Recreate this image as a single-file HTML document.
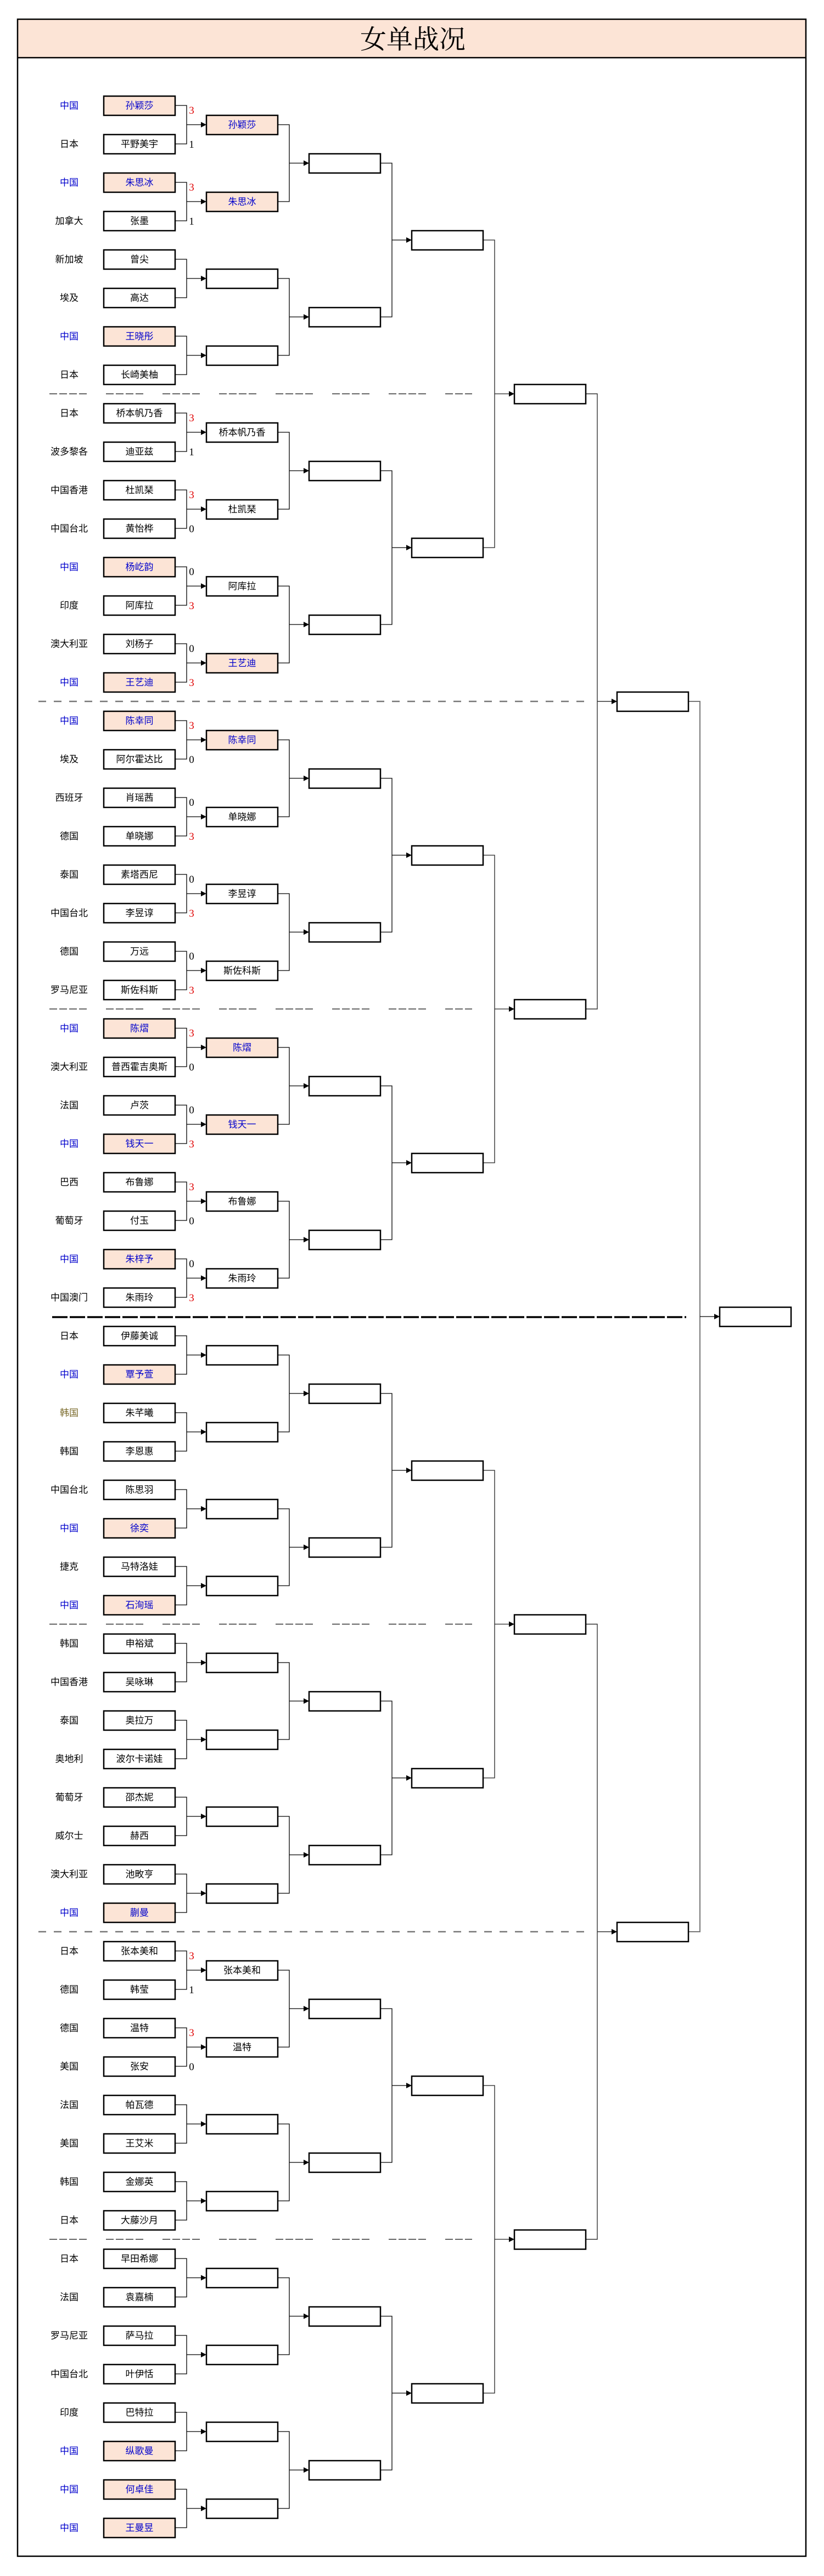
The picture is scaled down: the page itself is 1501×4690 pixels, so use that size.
<!DOCTYPE html>
<html><head><meta charset="utf-8"><style>
html,body{margin:0;padding:0;background:#fff}
svg{display:block}
text{font-family:"Liberation Sans","Noto Sans CJK SC",sans-serif;font-size:17px;text-anchor:middle;fill:#000}
.bl{fill:#0000cc}
.ol{fill:#7a6a2a}
.sc{font-family:"Liberation Serif",serif;font-size:19px}
.r{fill:#e00000}
.t{font-family:"Liberation Serif","Noto Serif CJK SC",serif;font-size:48px}
</style></head><body>
<svg width="1501" height="4690" viewBox="0 0 1501 4690" xmlns="http://www.w3.org/2000/svg" xmlns:xlink="http://www.w3.org/1999/xlink">
<defs>
<rect id="bx" x="0" y="0" width="130" height="35" fill="#fff" stroke="#000" stroke-width="2.5"/>
<rect id="hb" x="0" y="0" width="130" height="35" fill="#fce4d6" stroke="#000" stroke-width="2.5"/>
<g id="c1"><path d="M319 0H340V70H319M340 35H366" fill="none" stroke="#000" stroke-width="1.3"/><path d="M366 30L376 35L366 40Z"/></g>
<g id="c2"><path d="M506 0H527V140H506M527 70H553" fill="none" stroke="#000" stroke-width="1.3"/><path d="M553 65L563 70L553 75Z"/></g>
<g id="c3"><path d="M693 0H714V280H693M714 140H740" fill="none" stroke="#000" stroke-width="1.3"/><path d="M740 135L750 140L740 145Z"/></g>
<g id="c4"><path d="M880 0H901V560H880M901 280H927" fill="none" stroke="#222" stroke-width="1.3"/><path d="M927 275L937 280L927 285Z"/></g>
<g id="c5"><path d="M1067 0H1088V1120H1067M1088 560H1114" fill="none" stroke="#333" stroke-width="1.4"/><path d="M1114 555L1124 560L1114 565Z"/></g>
<g id="c6"><path d="M1254 0H1275V2240H1254" fill="none" stroke="#777" stroke-width="2"/><path d="M1275 1120H1301" stroke="#000" stroke-width="1.3"/><path d="M1301 1115L1311 1120L1301 1125Z"/></g>
</defs>

<!-- frame -->
<rect x="32" y="35" width="1436" height="70" fill="#fce4d6"/>
<rect x="32" y="35" width="1436" height="4619" fill="none" stroke="#000" stroke-width="2.5"/>
<line x1="32" y1="105" x2="1468" y2="105" stroke="#000" stroke-width="2.5"/>
<text class="t" x="752" y="88">女单战况</text>

<!-- separators -->
<g stroke="#666" stroke-width="2" stroke-dasharray="14 4 14 4 14 4 14 35">
<line x1="90" y1="717" x2="860" y2="717"/>
<line x1="90" y1="1837" x2="860" y2="1837"/>
<line x1="90" y1="2957" x2="860" y2="2957"/>
<line x1="90" y1="4077" x2="860" y2="4077"/>
</g>
<g stroke="#777" stroke-width="2.5" stroke-dasharray="14 14">
<line x1="70" y1="1277" x2="1075" y2="1277"/>
<line x1="70" y1="3517" x2="1075" y2="3517"/>
</g>
<line x1="95" y1="2398" x2="1250" y2="2398" stroke="#000" stroke-width="3.5" stroke-dasharray="28 4"/>

<!-- connectors -->
<use href="#c1" y="192"/><use href="#c1" y="332"/><use href="#c1" y="472"/><use href="#c1" y="612"/>
<use href="#c1" y="752"/><use href="#c1" y="892"/><use href="#c1" y="1032"/><use href="#c1" y="1172"/>
<use href="#c1" y="1312"/><use href="#c1" y="1452"/><use href="#c1" y="1592"/><use href="#c1" y="1732"/>
<use href="#c1" y="1872"/><use href="#c1" y="2012"/><use href="#c1" y="2152"/><use href="#c1" y="2292"/>
<use href="#c1" y="2432"/><use href="#c1" y="2572"/><use href="#c1" y="2712"/><use href="#c1" y="2852"/>
<use href="#c1" y="2992"/><use href="#c1" y="3132"/><use href="#c1" y="3272"/><use href="#c1" y="3412"/>
<use href="#c1" y="3552"/><use href="#c1" y="3692"/><use href="#c1" y="3832"/><use href="#c1" y="3972"/>
<use href="#c1" y="4112"/><use href="#c1" y="4252"/><use href="#c1" y="4392"/><use href="#c1" y="4532"/>
<use href="#c2" y="227"/><use href="#c2" y="507"/><use href="#c2" y="787"/><use href="#c2" y="1067"/>
<use href="#c2" y="1347"/><use href="#c2" y="1627"/><use href="#c2" y="1907"/><use href="#c2" y="2187"/>
<use href="#c2" y="2467"/><use href="#c2" y="2747"/><use href="#c2" y="3027"/><use href="#c2" y="3307"/>
<use href="#c2" y="3587"/><use href="#c2" y="3867"/><use href="#c2" y="4147"/><use href="#c2" y="4427"/>
<use href="#c3" y="297"/><use href="#c3" y="857"/><use href="#c3" y="1417"/><use href="#c3" y="1977"/>
<use href="#c3" y="2537"/><use href="#c3" y="3097"/><use href="#c3" y="3657"/><use href="#c3" y="4217"/>
<use href="#c4" y="437"/><use href="#c4" y="1557"/><use href="#c4" y="2677"/><use href="#c4" y="3797"/>
<use href="#c5" y="717"/><use href="#c5" y="2957"/>
<use href="#c6" y="1277"/>

<!-- R1 boxes -->
<use href="#hb" x="189" y="175"/><use href="#bx" x="189" y="245"/><use href="#hb" x="189" y="315"/><use href="#bx" x="189" y="385"/>
<use href="#bx" x="189" y="455"/><use href="#bx" x="189" y="525"/><use href="#hb" x="189" y="595"/><use href="#bx" x="189" y="665"/>
<use href="#bx" x="189" y="735"/><use href="#bx" x="189" y="805"/><use href="#bx" x="189" y="875"/><use href="#bx" x="189" y="945"/>
<use href="#hb" x="189" y="1015"/><use href="#bx" x="189" y="1085"/><use href="#bx" x="189" y="1155"/><use href="#hb" x="189" y="1225"/>
<use href="#hb" x="189" y="1295"/><use href="#bx" x="189" y="1365"/><use href="#bx" x="189" y="1435"/><use href="#bx" x="189" y="1505"/>
<use href="#bx" x="189" y="1575"/><use href="#bx" x="189" y="1645"/><use href="#bx" x="189" y="1715"/><use href="#bx" x="189" y="1785"/>
<use href="#hb" x="189" y="1855"/><use href="#bx" x="189" y="1925"/><use href="#bx" x="189" y="1995"/><use href="#hb" x="189" y="2065"/>
<use href="#bx" x="189" y="2135"/><use href="#bx" x="189" y="2205"/><use href="#hb" x="189" y="2275"/><use href="#bx" x="189" y="2345"/>
<use href="#bx" x="189" y="2415"/><use href="#hb" x="189" y="2485"/><use href="#bx" x="189" y="2555"/><use href="#bx" x="189" y="2625"/>
<use href="#bx" x="189" y="2695"/><use href="#hb" x="189" y="2765"/><use href="#bx" x="189" y="2835"/><use href="#hb" x="189" y="2905"/>
<use href="#bx" x="189" y="2975"/><use href="#bx" x="189" y="3045"/><use href="#bx" x="189" y="3115"/><use href="#bx" x="189" y="3185"/>
<use href="#bx" x="189" y="3255"/><use href="#bx" x="189" y="3325"/><use href="#bx" x="189" y="3395"/><use href="#hb" x="189" y="3465"/>
<use href="#bx" x="189" y="3535"/><use href="#bx" x="189" y="3605"/><use href="#bx" x="189" y="3675"/><use href="#bx" x="189" y="3745"/>
<use href="#bx" x="189" y="3815"/><use href="#bx" x="189" y="3885"/><use href="#bx" x="189" y="3955"/><use href="#bx" x="189" y="4025"/>
<use href="#bx" x="189" y="4095"/><use href="#bx" x="189" y="4165"/><use href="#bx" x="189" y="4235"/><use href="#bx" x="189" y="4305"/>
<use href="#bx" x="189" y="4375"/><use href="#hb" x="189" y="4445"/><use href="#hb" x="189" y="4515"/><use href="#hb" x="189" y="4585"/>

<!-- R2 boxes -->
<use href="#hb" x="376" y="210"/><use href="#hb" x="376" y="350"/><use href="#bx" x="376" y="490"/><use href="#bx" x="376" y="630"/>
<use href="#bx" x="376" y="770"/><use href="#bx" x="376" y="910"/><use href="#bx" x="376" y="1050"/><use href="#hb" x="376" y="1190"/>
<use href="#hb" x="376" y="1330"/><use href="#bx" x="376" y="1470"/><use href="#bx" x="376" y="1610"/><use href="#bx" x="376" y="1750"/>
<use href="#hb" x="376" y="1890"/><use href="#hb" x="376" y="2030"/><use href="#bx" x="376" y="2170"/><use href="#bx" x="376" y="2310"/>
<use href="#bx" x="376" y="2450"/><use href="#bx" x="376" y="2590"/><use href="#bx" x="376" y="2730"/><use href="#bx" x="376" y="2870"/>
<use href="#bx" x="376" y="3010"/><use href="#bx" x="376" y="3150"/><use href="#bx" x="376" y="3290"/><use href="#bx" x="376" y="3430"/>
<use href="#bx" x="376" y="3570"/><use href="#bx" x="376" y="3710"/><use href="#bx" x="376" y="3850"/><use href="#bx" x="376" y="3990"/>
<use href="#bx" x="376" y="4130"/><use href="#bx" x="376" y="4270"/><use href="#bx" x="376" y="4410"/><use href="#bx" x="376" y="4550"/>
<!-- R3 -->
<use href="#bx" x="563" y="280"/><use href="#bx" x="563" y="560"/><use href="#bx" x="563" y="840"/><use href="#bx" x="563" y="1120"/>
<use href="#bx" x="563" y="1400"/><use href="#bx" x="563" y="1680"/><use href="#bx" x="563" y="1960"/><use href="#bx" x="563" y="2240"/>
<use href="#bx" x="563" y="2520"/><use href="#bx" x="563" y="2800"/><use href="#bx" x="563" y="3080"/><use href="#bx" x="563" y="3360"/>
<use href="#bx" x="563" y="3640"/><use href="#bx" x="563" y="3920"/><use href="#bx" x="563" y="4200"/><use href="#bx" x="563" y="4480"/>
<!-- R4 -->
<use href="#bx" x="750" y="420"/><use href="#bx" x="750" y="980"/><use href="#bx" x="750" y="1540"/><use href="#bx" x="750" y="2100"/>
<use href="#bx" x="750" y="2660"/><use href="#bx" x="750" y="3220"/><use href="#bx" x="750" y="3780"/><use href="#bx" x="750" y="4340"/>
<!-- R5 -->
<use href="#bx" x="937" y="700"/><use href="#bx" x="937" y="1820"/><use href="#bx" x="937" y="2940"/><use href="#bx" x="937" y="4060"/>
<!-- R6 -->
<use href="#bx" x="1124" y="1260"/><use href="#bx" x="1124" y="3500"/>
<!-- Final -->
<use href="#bx" x="1311" y="2380"/>

<!-- countries -->
<g>
<text class="bl" x="126" y="198">中国</text>
<text x="126" y="268">日本</text>
<text class="bl" x="126" y="338">中国</text>
<text x="126" y="408">加拿大</text>
<text x="126" y="478">新加坡</text>
<text x="126" y="548">埃及</text>
<text class="bl" x="126" y="618">中国</text>
<text x="126" y="688">日本</text>
<text x="126" y="758">日本</text>
<text x="126" y="828">波多黎各</text>
<text x="126" y="898">中国香港</text>
<text x="126" y="968">中国台北</text>
<text class="bl" x="126" y="1038">中国</text>
<text x="126" y="1108">印度</text>
<text x="126" y="1178">澳大利亚</text>
<text class="bl" x="126" y="1248">中国</text>
<text class="bl" x="126" y="1318">中国</text>
<text x="126" y="1388">埃及</text>
<text x="126" y="1458">西班牙</text>
<text x="126" y="1528">德国</text>
<text x="126" y="1598">泰国</text>
<text x="126" y="1668">中国台北</text>
<text x="126" y="1738">德国</text>
<text x="126" y="1808">罗马尼亚</text>
<text class="bl" x="126" y="1878">中国</text>
<text x="126" y="1948">澳大利亚</text>
<text x="126" y="2018">法国</text>
<text class="bl" x="126" y="2088">中国</text>
<text x="126" y="2158">巴西</text>
<text x="126" y="2228">葡萄牙</text>
<text class="bl" x="126" y="2298">中国</text>
<text x="126" y="2368">中国澳门</text>
<text x="126" y="2438">日本</text>
<text class="bl" x="126" y="2508">中国</text>
<text class="ol" x="126" y="2578">韩国</text>
<text x="126" y="2648">韩国</text>
<text x="126" y="2718">中国台北</text>
<text class="bl" x="126" y="2788">中国</text>
<text x="126" y="2858">捷克</text>
<text class="bl" x="126" y="2928">中国</text>
<text x="126" y="2998">韩国</text>
<text x="126" y="3068">中国香港</text>
<text x="126" y="3138">泰国</text>
<text x="126" y="3208">奥地利</text>
<text x="126" y="3278">葡萄牙</text>
<text x="126" y="3348">威尔士</text>
<text x="126" y="3418">澳大利亚</text>
<text class="bl" x="126" y="3488">中国</text>
<text x="126" y="3558">日本</text>
<text x="126" y="3628">德国</text>
<text x="126" y="3698">德国</text>
<text x="126" y="3768">美国</text>
<text x="126" y="3838">法国</text>
<text x="126" y="3908">美国</text>
<text x="126" y="3978">韩国</text>
<text x="126" y="4048">日本</text>
<text x="126" y="4118">日本</text>
<text x="126" y="4188">法国</text>
<text x="126" y="4258">罗马尼亚</text>
<text x="126" y="4328">中国台北</text>
<text x="126" y="4398">印度</text>
<text class="bl" x="126" y="4468">中国</text>
<text class="bl" x="126" y="4538">中国</text>
<text class="bl" x="126" y="4608">中国</text>
</g>

<!-- R1 names -->
<g>
<text class="bl" x="254" y="198">孙颖莎</text>
<text x="254" y="268">平野美宇</text>
<text class="bl" x="254" y="338">朱思冰</text>
<text x="254" y="408">张墨</text>
<text x="254" y="478">曾尖</text>
<text x="254" y="548">高达</text>
<text class="bl" x="254" y="618">王晓彤</text>
<text x="254" y="688">长崎美柚</text>
<text x="254" y="758">桥本帆乃香</text>
<text x="254" y="828">迪亚兹</text>
<text x="254" y="898">杜凯琹</text>
<text x="254" y="968">黄怡桦</text>
<text class="bl" x="254" y="1038">杨屹韵</text>
<text x="254" y="1108">阿库拉</text>
<text x="254" y="1178">刘杨子</text>
<text class="bl" x="254" y="1248">王艺迪</text>
<text class="bl" x="254" y="1318">陈幸同</text>
<text x="254" y="1388">阿尔霍达比</text>
<text x="254" y="1458">肖瑶茜</text>
<text x="254" y="1528">单晓娜</text>
<text x="254" y="1598">素塔西尼</text>
<text x="254" y="1668">李昱谆</text>
<text x="254" y="1738">万远</text>
<text x="254" y="1808">斯佐科斯</text>
<text class="bl" x="254" y="1878">陈熠</text>
<text x="254" y="1948">普西霍吉奥斯</text>
<text x="254" y="2018">卢茨</text>
<text class="bl" x="254" y="2088">钱天一</text>
<text x="254" y="2158">布鲁娜</text>
<text x="254" y="2228">付玉</text>
<text class="bl" x="254" y="2298">朱梓予</text>
<text x="254" y="2368">朱雨玲</text>
<text x="254" y="2438">伊藤美诚</text>
<text class="bl" x="254" y="2508">覃予萱</text>
<text x="254" y="2578">朱芊曦</text>
<text x="254" y="2648">李恩惠</text>
<text x="254" y="2718">陈思羽</text>
<text class="bl" x="254" y="2788">徐奕</text>
<text x="254" y="2858">马特洛娃</text>
<text class="bl" x="254" y="2928">石洵瑶</text>
<text x="254" y="2998">申裕斌</text>
<text x="254" y="3068">吴咏琳</text>
<text x="254" y="3138">奥拉万</text>
<text x="254" y="3208">波尔卡诺娃</text>
<text x="254" y="3278">邵杰妮</text>
<text x="254" y="3348">赫西</text>
<text x="254" y="3418">池畋亨</text>
<text class="bl" x="254" y="3488">蒯曼</text>
<text x="254" y="3558">张本美和</text>
<text x="254" y="3628">韩莹</text>
<text x="254" y="3698">温特</text>
<text x="254" y="3768">张安</text>
<text x="254" y="3838">帕瓦德</text>
<text x="254" y="3908">王艾米</text>
<text x="254" y="3978">金娜英</text>
<text x="254" y="4048">大藤沙月</text>
<text x="254" y="4118">早田希娜</text>
<text x="254" y="4188">袁嘉楠</text>
<text x="254" y="4258">萨马拉</text>
<text x="254" y="4328">叶伊恬</text>
<text x="254" y="4398">巴特拉</text>
<text class="bl" x="254" y="4468">纵歌曼</text>
<text class="bl" x="254" y="4538">何卓佳</text>
<text class="bl" x="254" y="4608">王曼昱</text>
</g>

<!-- R2 names -->
<g>
<text class="bl" x="441" y="233">孙颖莎</text>
<text class="bl" x="441" y="373">朱思冰</text>
<text x="441" y="793">桥本帆乃香</text>
<text x="441" y="933">杜凯琹</text>
<text x="441" y="1073">阿库拉</text>
<text class="bl" x="441" y="1213">王艺迪</text>
<text class="bl" x="441" y="1353">陈幸同</text>
<text x="441" y="1493">单晓娜</text>
<text x="441" y="1633">李昱谆</text>
<text x="441" y="1773">斯佐科斯</text>
<text class="bl" x="441" y="1913">陈熠</text>
<text class="bl" x="441" y="2053">钱天一</text>
<text x="441" y="2193">布鲁娜</text>
<text x="441" y="2333">朱雨玲</text>
<text x="441" y="3593">张本美和</text>
<text x="441" y="3733">温特</text>
</g>

<!-- scores -->
<g>
<text class="sc r" x="349" y="207">3</text><text class="sc" x="349" y="269">1</text>
<text class="sc r" x="349" y="347">3</text><text class="sc" x="349" y="409">1</text>
<text class="sc r" x="349" y="767">3</text><text class="sc" x="349" y="829">1</text>
<text class="sc r" x="349" y="907">3</text><text class="sc" x="349" y="969">0</text>
<text class="sc" x="349" y="1047">0</text><text class="sc r" x="349" y="1109">3</text>
<text class="sc" x="349" y="1187">0</text><text class="sc r" x="349" y="1249">3</text>
<text class="sc r" x="349" y="1327">3</text><text class="sc" x="349" y="1389">0</text>
<text class="sc" x="349" y="1467">0</text><text class="sc r" x="349" y="1529">3</text>
<text class="sc" x="349" y="1607">0</text><text class="sc r" x="349" y="1669">3</text>
<text class="sc" x="349" y="1747">0</text><text class="sc r" x="349" y="1809">3</text>
<text class="sc r" x="349" y="1887">3</text><text class="sc" x="349" y="1949">0</text>
<text class="sc" x="349" y="2027">0</text><text class="sc r" x="349" y="2089">3</text>
<text class="sc r" x="349" y="2167">3</text><text class="sc" x="349" y="2229">0</text>
<text class="sc" x="349" y="2307">0</text><text class="sc r" x="349" y="2369">3</text>
<text class="sc r" x="349" y="3567">3</text><text class="sc" x="349" y="3629">1</text>
<text class="sc r" x="349" y="3707">3</text><text class="sc" x="349" y="3769">0</text>
</g>
</svg>
</body></html>
